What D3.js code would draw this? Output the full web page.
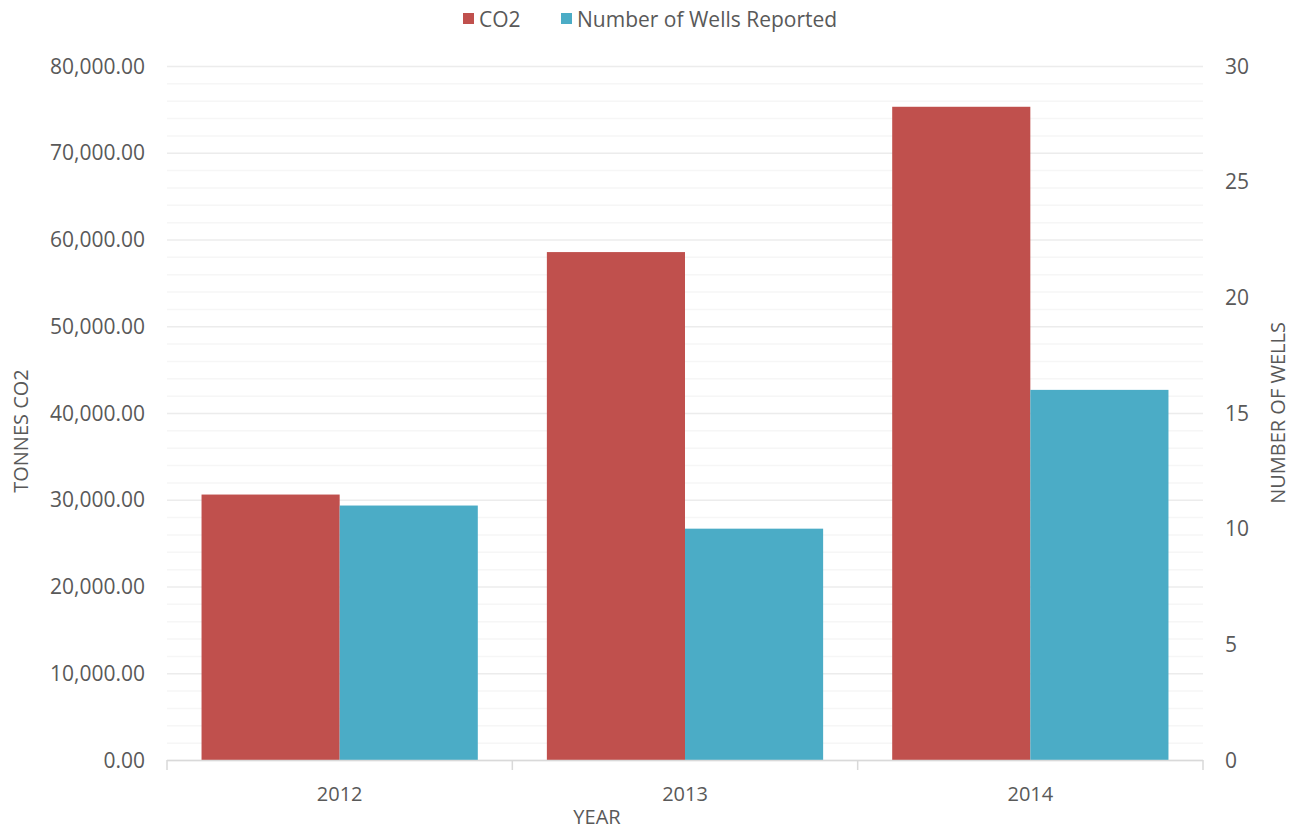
<!DOCTYPE html>
<html><head><meta charset="utf-8">
<script src="https://cdn.jsdelivr.net/npm/d3@7"></script>
<style>body{margin:0;background:#fff;} text{font-family:"Open Sans",sans-serif;fill:#595959;}</style>
</head><body><svg id="c" width="1300" height="831"></svg>
<script>
const years = ["2012","2013","2014"];
const co2 = [30600, 58550, 75300];
const wells = [11, 10, 16];
const leftTicks = [0,10000,20000,30000,40000,50000,60000,70000,80000];
const rightTicks = [0,5,10,15,20,25,30];
const seriesNames = ["CO2","Number of Wells Reported"];
const colors = ["#C0504D","#4BACC6"];

const svg = d3.select("#c");
const L=167, R=1203, T=66, B=760;
const x = d3.scaleBand().domain(years).range([L,R]).paddingInner(0.2).paddingOuter(0.1);
const yL = d3.scaleLinear().domain([0,80000]).range([B,T]);
const yR = d3.scaleLinear().domain([0,30]).range([B,T]);

// gridlines
const minor = d3.range(0,80001,2000);
svg.append("g").selectAll("line").data(minor).join("line")
  .attr("x1",L).attr("x2",R).attr("y1",d=>yL(d)+0.5).attr("y2",d=>yL(d)+0.5)
  .attr("stroke", d=> d%10000===0 ? "#ececec" : "#f6f6f6").attr("stroke-width",1.5);

// bars
const bw = x.bandwidth()/2;
svg.append("g").selectAll("rect").data(years).join("rect")
  .attr("x",d=>x(d)).attr("width",bw)
  .attr("y",(d,i)=>yL(co2[i])).attr("height",(d,i)=>B-yL(co2[i]))
  .attr("fill",colors[0]);
svg.append("g").selectAll("rect").data(years).join("rect")
  .attr("x",d=>x(d)+bw).attr("width",bw)
  .attr("y",(d,i)=>yR(wells[i])).attr("height",(d,i)=>B-yR(wells[i]))
  .attr("fill",colors[1]);

// x axis
const xAxis = svg.append("g").attr("transform",`translate(0,${B})`);
xAxis.append("line").attr("x1",L).attr("x2",R).attr("y1",0.5).attr("y2",0.5).attr("stroke","#d9d9d9").attr("stroke-width",1.5);
const bounds = [L, ...years.slice(1).map(d=>x(d)-x.step()*x.paddingInner()/2), R];
xAxis.selectAll("line.t").data(bounds).join("line").attr("class","t")
  .attr("x1",d=>d).attr("x2",d=>d).attr("y1",0).attr("y2",10).attr("stroke","#d9d9d9").attr("stroke-width",1.5);
xAxis.selectAll("text").data(years).join("text")
  .attr("x",d=>x(d)+x.bandwidth()/2).attr("y",41).attr("text-anchor","middle")
  .style("font-size","20px").text(d=>d);

// left axis labels
const fmt = d3.format(",.2f");
svg.append("g").selectAll("text").data(leftTicks).join("text")
  .attr("x",145).attr("y",d=>yL(d)+7.5).attr("text-anchor","end")
  .style("font-size","21px").text(d=>fmt(d));
// right axis labels
svg.append("g").selectAll("text").data(rightTicks).join("text")
  .attr("x",1225).attr("y",d=>yR(d)+7.5).attr("text-anchor","start")
  .style("font-size","21px").text(d=>d);

// axis titles
svg.append("text").attr("transform","translate(28,431) rotate(-90)").attr("text-anchor","middle")
  .style("font-size","20px").text("TONNES CO2");
svg.append("text").attr("transform","translate(1285,413) rotate(-90)").attr("text-anchor","middle")
  .style("font-size","20px").text("NUMBER OF WELLS");
svg.append("text").attr("x",597).attr("y",824).attr("text-anchor","middle")
  .style("font-size","20px").text("YEAR");

// legend
const leg = svg.append("g");
const legX = [463, 561];
seriesNames.forEach((n,i)=>{
  leg.append("rect").attr("x",legX[i]).attr("y",13).attr("width",11).attr("height",11).attr("fill",colors[i]);
  leg.append("text").attr("x",legX[i]+16).attr("y",26.5).style("font-size","21px").text(n);
});
</script></body></html>
